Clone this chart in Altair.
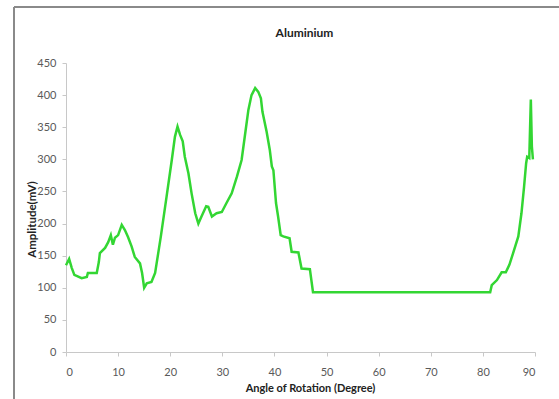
import altair as alt
import pandas as pd

# Angle of rotation (degree) and amplitude (mV)
angle = [0.0, 0.6, 1.1, 1.6, 3.0, 4.0, 4.2, 5.9, 6.3, 6.5, 7.5, 8.1, 8.6, 9.0, 9.4,
         10.0, 10.7, 11.3, 11.9, 12.6, 13.2, 14.2, 14.6, 15.0, 15.5, 16.4, 17.1,
         17.7, 18.2, 19.3, 20.3, 20.9, 21.4, 21.9, 22.4, 22.8, 23.5, 24.1, 24.8,
         25.4, 26.0, 26.9, 27.3, 28.0, 28.9, 29.9, 30.8, 31.8, 32.8, 33.7, 34.4,
         35.0, 35.6, 36.3, 36.9, 37.4, 37.7, 38.5, 39.1, 39.5, 39.8, 40.3, 40.7,
         41.2, 41.7, 42.9, 43.3, 44.6, 45.2, 46.8, 47.4, 81.4, 81.7, 82.7, 83.6,
         84.4, 85.1, 85.8, 86.8, 87.4, 87.9, 88.3, 88.5, 88.9, 89.2, 89.4, 89.6]
amplitude = [135, 145, 131, 120, 115, 117, 123, 123, 140, 154, 162, 171, 182, 167, 178,
             182, 198, 190, 179, 164, 148, 138, 123, 100, 107, 109, 123,
             154, 180, 242, 299, 335, 351, 338, 328, 304, 278, 247, 216,
             200, 211, 227, 226, 211, 216, 218, 232, 247, 273, 299, 341,
             377, 400, 411, 405, 395, 374, 343, 315, 289, 283, 232, 211,
             182, 180, 177, 156, 155, 130, 129, 93, 93, 104, 112, 124,
             124, 136, 154, 180, 216, 257, 294, 304, 302, 393, 320, 300]

x_ticks = [0, 10, 20, 30, 40, 50, 60, 70, 80, 90]
y_ticks = [0, 50, 100, 150, 200, 250, 300, 350, 400, 450]

df = pd.DataFrame({"angle": angle, "amp": amplitude})

FONT = "Lato"

line = alt.Chart(df).mark_line(color="#33d633", strokeWidth=2.5).encode(
    x=alt.X("angle:Q",
            scale=alt.Scale(domain=[0, 90], nice=False, zero=False, range=[66, 535]),
            axis=alt.Axis(values=x_ticks, title="Angle of Rotation (Degree)",
                          offset=-47, titleX=310, titleY=39,
                          titleBaseline="alphabetic",
                          labelPadding=10, labelFontSize=11)),
    y=alt.Y("amp:Q",
            scale=alt.Scale(domain=[0, 450], nice=False, range=[352, 63]),
            axis=alt.Axis(values=y_ticks, title="Amplitude(mV)",
                          offset=-66, titleX=-31, titleY=219, titleAlign="center",
                          titleBaseline="alphabetic", titleAngle=270,
                          labelPadding=6, labelFontSize=11, titleFontSize=11.5)),
)

one = pd.DataFrame({"a": [0]})
left_border = alt.Chart(one).mark_rule(color="#8a8a8a", strokeWidth=2).encode(
    x=alt.value(14), y=alt.value(7), y2=alt.value(399)
)
top_border = alt.Chart(one).mark_rule(color="#8a8a8a", strokeWidth=2).encode(
    x=alt.value(14), x2=alt.value(559), y=alt.value(7)
)

chart = alt.layer(left_border, top_border, line).properties(
    width=559, height=399,
    padding=0,
    autosize=alt.AutoSizeParams(type="none"),
    title=alt.TitleParams("Aluminium", font=FONT, fontSize=12, fontWeight="bold",
                          color="#222222", anchor="middle", offset=0, dy=49,
                          dx=25, baseline="alphabetic", frame="group"),
    background="white",
).configure_view(stroke=None).configure_axis(
    grid=False, domainColor="#c8c8c8", tickColor="#c8c8c8", tickSize=4,
    labelFont=FONT, labelColor="#595959", titleFont=FONT, titleColor="#222222",
    titleFontWeight="bold", titleFontSize=11,
)

chart.save("out.html", embed_options={"renderer": "svg", "actions": False})
